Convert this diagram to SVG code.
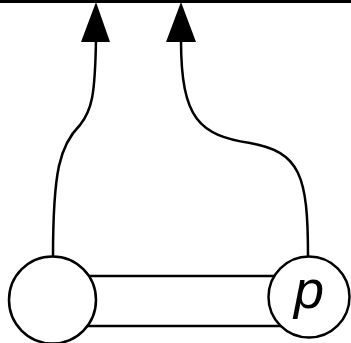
<svg xmlns="http://www.w3.org/2000/svg" width="351" height="343" viewBox="0 0 351 343">
<style>
.ln{fill:none;stroke:#000;stroke-width:2.5}
.nd{fill:#fff;stroke:#000;stroke-width:2.5}
.ah{fill:#000;stroke:none}
.lb{font-family:"Liberation Sans",Arial,sans-serif;font-style:italic;font-size:54px;fill:#000}
</style>
<g id="boundary"><line x1="0" y1="1.5" x2="351" y2="1.5" stroke="#000" stroke-width="3"/></g>
<g id="connectors">
<path class="ln" d="M96,40 C95,95 92,110 80,125 C60,145 53,170 53,257"/>
<path class="ln" d="M181,40 C181,120 200,135 250,143 C300,152 308,175 308,256"/>
<polygon class="ah" points="96,2 81,42 110,42"/>
<polygon class="ah" points="181,2 166,42 196,42"/>
<line class="ln" x1="60" y1="276" x2="300" y2="276"/>
<line class="ln" x1="60" y1="326" x2="300" y2="326"/>
</g>
<g id="node-left"><circle class="nd" cx="52.5" cy="300" r="43.5"/></g>
<g id="node-p"><circle class="nd" cx="309" cy="297" r="40.5"/><text class="lb" x="309" y="308" text-anchor="middle">p</text></g>
</svg>
